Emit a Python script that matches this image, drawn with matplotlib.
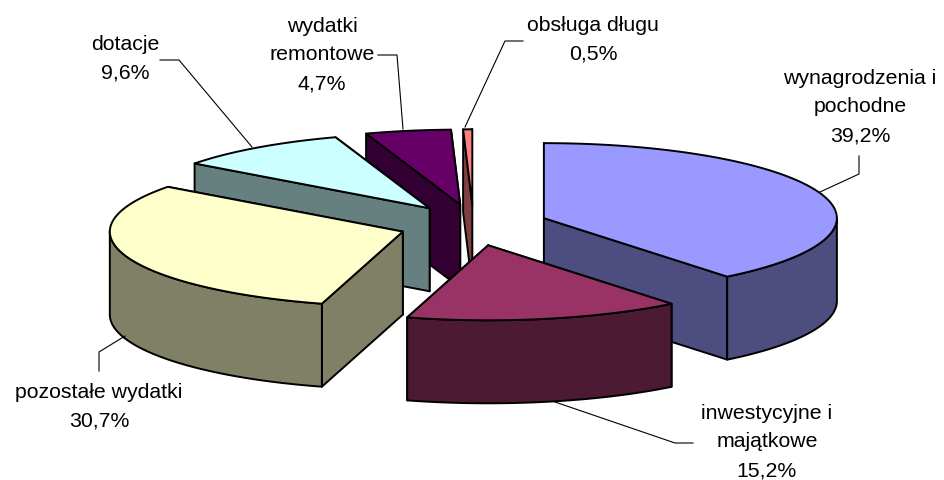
import matplotlib.pyplot as plt
import numpy as np

labels = ["wynagrodzenia i\npochodne\n39,2%", "inwestycyjne i\nmajątkowe\n15,2%",
          "pozostałe wydatki\n30,7%", "dotacje\n9,6%",
          "wydatki\nremontowe\n4,7%", "obsługa długu\n0,5%"]
values = [39.2, 15.2, 30.7, 9.6, 4.7, 0.5]
top_colors = ["#9999FF", "#993366", "#FFFFCC", "#CCFFFF", "#660066", "#FF8080"]
side_colors = ["#4D4D80", "#4D1A33", "#808066", "#668080", "#330033", "#804040"]
draw_order = [5, 4, 3, 2, 0, 1]  # tylne kawalki najpierw

label_pos = [(860, 107), (767, 442), (99, 407), (125, 59), (322, 55), (593, 40)]
leaders = [[(859, 157), (859, 175), (820, 193)],
           [(693, 444), (675, 444), (555, 403)],
           [(99, 372), (99, 353), (125, 337)],
           [(160, 61), (179, 61), (252, 148)],
           [(378, 56), (397, 56), (403, 130)],
           [(523, 42), (505, 42), (465, 128)]]

CX, CY = 473.5, 226
RX, RY = 293, 75
EXPLODE_X, EXPLODE_Y = 74.6, 20.7
DEPTH = 83
EDGE = 1.4

plt.rcParams['font.family'] = ['Liberation Sans', 'DejaVu Sans']

fig = plt.figure(figsize=(9.44, 4.81), dpi=100)
ax = fig.add_axes([0, 0, 1, 1])
ax.set_xlim(0, 944)
ax.set_ylim(481, 0)
ax.axis('off')

total = sum(values)
edges = np.radians(np.concatenate([[0], np.cumsum(values)]) / total * 360)


def rim_points(ox, oy, a0, a1):
    t = np.linspace(a0, a1, 80)
    return ox + RX * np.sin(t), oy - RY * np.cos(t)


for i in draw_order:
    a0, a1 = edges[i], edges[i + 1]
    mid = (a0 + a1) / 2
    ox = CX + EXPLODE_X * np.sin(mid)
    oy = CY - EXPLODE_Y * np.cos(mid)
    style = dict(edgecolor='black', linewidth=EDGE, joinstyle='round')

    # scianki promieniowe, ta z tylu najpierw
    walls = sorted([a0, a1], key=lambda a: -np.cos(a))
    for a in walls:
        px, py = rim_points(ox, oy, a, a)
        px, py = px[0], py[0]
        ax.fill([ox, px, px, ox], [oy, py, py + DEPTH, oy + DEPTH],
                facecolor=side_colors[i], **style)

    # bok widoczny tylko w dolnej polowie elipsy
    r0, r1 = max(a0, np.pi / 2), min(a1, 3 * np.pi / 2)
    if r0 < r1:
        rx, ry = rim_points(ox, oy, r0, r1)
        ax.fill(np.concatenate([rx, rx[::-1]]), np.concatenate([ry, ry[::-1] + DEPTH]),
                facecolor=side_colors[i], **style)

    tx, ty = rim_points(ox, oy, a0, a1)
    ax.fill(np.concatenate([[ox], tx]), np.concatenate([[oy], ty]),
            facecolor=top_colors[i], **style)

for pts in leaders:
    xs, ys = zip(*pts)
    ax.plot(xs, ys, color='black', linewidth=0.8)

for text, (x, y) in zip(labels, label_pos):
    ax.text(x, y, text, ha='center', va='center', fontsize=15.3, color='black',
            linespacing=1.66, clip_on=False)

fig.savefig('out.png', dpi=100)
